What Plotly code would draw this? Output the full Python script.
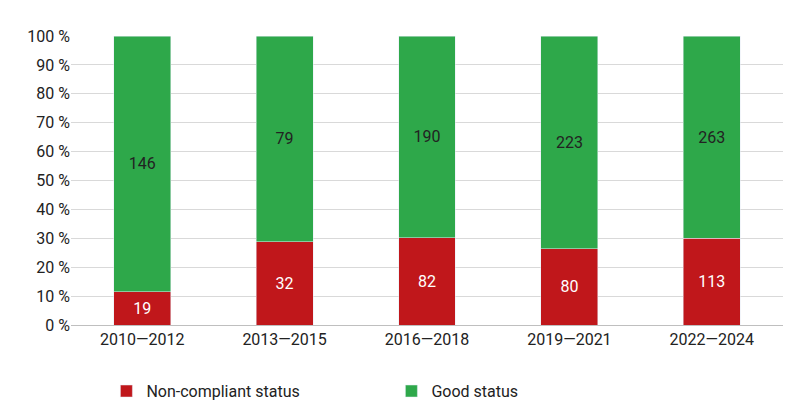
import plotly.graph_objects as go

categories = ["2010—2012", "2013—2015", "2016—2018", "2019—2021", "2022—2024"]
non_compliant = [19, 32, 82, 80, 113]
good = [146, 79, 190, 223, 263]

fig = go.Figure()
fig.add_bar(x=categories, y=non_compliant, name="Non-compliant status", marker_color="#c0171b",
            text=non_compliant, textposition="inside", insidetextanchor="middle",
            textfont=dict(color="white", size=16))
fig.add_bar(x=categories, y=good, name="Good status", marker_color="#2ea84a",
            text=good, textposition="inside", insidetextanchor="middle",
            textfont=dict(color="#222", size=16))
fig.update_layout(
    barmode="stack", barnorm="percent", bargap=0.6,
    width=800, height=412, paper_bgcolor="white", plot_bgcolor="white",
    margin=dict(l=63, r=25, t=28, b=95),
    font=dict(family="Roboto", size=16, color="#222"),
    legend=dict(orientation="h", x=0.45, xanchor="center", y=-0.17, yanchor="top",
                font=dict(size=16), traceorder="normal", entrywidth=240),
    uniformtext=dict(mode="show", minsize=10),
)
fig.update_yaxes(range=[0, 100], dtick=10, ticksuffix=" %", gridcolor="#d9d9d9",
                 showline=False, zeroline=False, ticks="", tickfont=dict(size=16))
fig.update_xaxes(showline=True, linecolor="#bfbfbf", tickfont=dict(size=16))
fig.write_html("out.html")
